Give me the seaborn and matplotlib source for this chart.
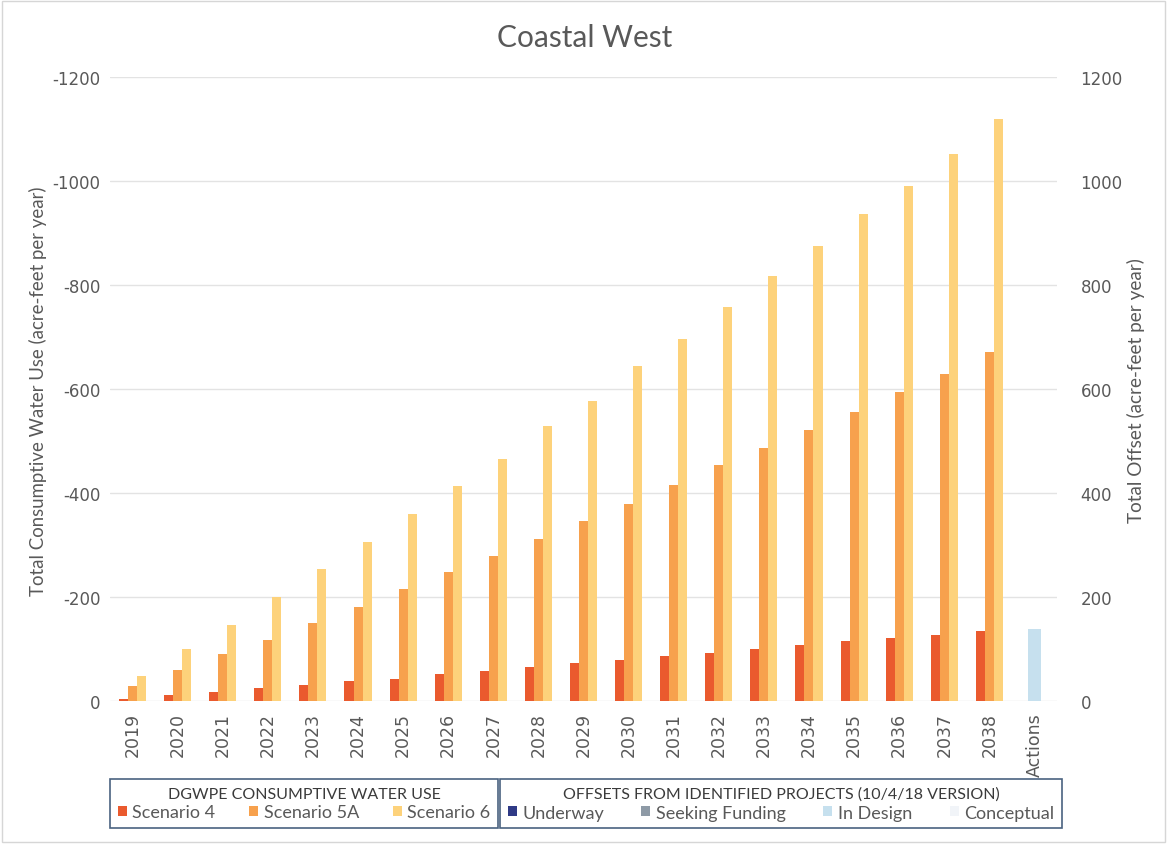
import numpy as np
import pandas as pd
import matplotlib
matplotlib.use("Agg")
import matplotlib.pyplot as plt
import seaborn as sns
from matplotlib.patches import Patch, Rectangle

# ---- data -------------------------------------------------------------
years = [str(y) for y in range(2019, 2039)]
categories = years + ["Actions"]

scenario_names = ["Scenario 4", "Scenario 5A", "Scenario 6"]
# consumptive water use (negative = use), acre-feet per year
scenario_4 = [-3, -11, -17, -25, -31, -38, -43, -52, -58, -65,
              -73, -79, -87, -92, -100, -108, -116, -121, -127, -135]
scenario_5a = [-28, -60, -90, -117, -150, -181, -215, -248, -279, -312,
               -346, -379, -415, -454, -487, -521, -556, -594, -629, -671]
scenario_6 = [-48, -100, -146, -200, -254, -306, -360, -413, -465, -529,
              -577, -644, -696, -758, -817, -875, -937, -990, -1052, -1119]

offset_names = ["Underway", "Seeking Funding", "In Design", "Conceptual"]
offset_actions = [0, 0, 138, 0]  # total offset for the "Actions" column

left_ticks = [0, -200, -400, -600, -800, -1000, -1200]
right_ticks = [0, 200, 400, 600, 800, 1000, 1200]

# ---- styling ----------------------------------------------------------
scenario_colors = ["#ea5a2e", "#f7a14d", "#fdd27b"]
offset_colors = ["#2f3a86", "#8e9aa6", "#c6e0ee", "#f1f4f8"]
text_gray = "#595959"

sns.set_theme(style="white")
plt.rcParams["font.family"] = ["Lato", "DejaVu Sans"]

W, H = 1167, 845
fig = plt.figure(figsize=(W / 100, H / 100), dpi=100)
ax = fig.add_axes([110 / W, 1 - 702 / H, 947 / W, 624 / H])

df = pd.DataFrame({
    "year": years * 3,
    "scenario": np.repeat(scenario_names, len(years)),
    "value": scenario_4 + scenario_5a + scenario_6,
})

sns.barplot(data=df, x="year", y="value", hue="scenario",
            order=categories, hue_order=scenario_names,
            palette=scenario_colors, width=0.6, saturation=1,
            linewidth=0, errorbar=None, legend=False, ax=ax)

# secondary axis: offsets from identified projects (stacked)
ax2 = ax.twinx()
cum = np.cumsum(offset_actions)
for name, color, top in reversed(list(zip(offset_names, offset_colors, cum))):
    sns.barplot(x=["Actions"], y=[top], order=categories, color=color,
                width=0.29, saturation=1, linewidth=0, errorbar=None, ax=ax2)

ax.set_xlim(-0.5, len(categories) - 0.5)
ax.set_ylim(0, -1200)
ax2.set_ylim(0, 1200)

ax.set_yticks(left_ticks)
ax.set_yticklabels([str(t) for t in left_ticks])
ax2.set_yticks(right_ticks)
ax2.set_yticklabels([str(t) for t in right_ticks])

ax.set_axisbelow(True)
ax.grid(axis="y", color="#e3e3e3", linewidth=1)
ax.grid(axis="x", visible=False)
ax2.grid(False)

for a in (ax, ax2):
    for s in a.spines.values():
        s.set_visible(False)
    a.set_xlabel("")
    a.set_ylabel("")

ax.tick_params(axis="y", length=0, pad=7, labelsize=12, labelcolor=text_gray)
ax2.tick_params(axis="y", length=0, pad=17, labelsize=12, labelcolor=text_gray)
ax.tick_params(axis="x", length=0, pad=8, labelsize=12.5, labelcolor=text_gray)
for lbl in ax.get_xticklabels():
    lbl.set_rotation(90)
    lbl.set_fontfamily("DejaVu Sans")
for lbl in ax.get_yticklabels() + ax2.get_yticklabels():
    lbl.set_fontfamily("DejaVu Sans")

# titles
fig.text(585 / W, 1 - 38 / H, "Coastal West", ha="center", va="center",
         fontsize=21.5, color=text_gray)
fig.text(38 / W, 1 - 391 / H, "Total Consumptive Water Use (acre-feet per year)",
         rotation=90, ha="center", va="center", fontsize=13.4, color=text_gray)
fig.text(1136 / W, 1 - 391 / H, "Total Offset (acre-feet per year)",
         rotation=90, ha="center", va="center", fontsize=13.6, color=text_gray)

# legends
def boxed_legend(names, colors, title, x0, x1):
    handles = [Patch(facecolor=c, edgecolor="none") for c in colors]
    leg = fig.legend(handles, names, title=title, ncol=len(names),
                     loc="upper left",
                     bbox_to_anchor=(x0 / W, 1 - 780 / H, (x1 - x0) / W, 0),
                     mode="expand", borderaxespad=0, frameon=True,
                     fancybox=False, framealpha=1, edgecolor="#4a6280",
                     fontsize=13, title_fontsize=11.5,
                     handlelength=0.5, handleheight=0.5, handletextpad=0.3,
                     columnspacing=0.6, borderpad=0.42, labelspacing=0.2,
                     labelcolor=text_gray)
    leg.get_title().set_color("#3a3a3a")
    leg.get_frame().set_linewidth(1.2)
    return leg

boxed_legend(scenario_names, scenario_colors, "DGWPE CONSUMPTIVE WATER USE", 110, 498)
boxed_legend(offset_names, offset_colors,
             "OFFSETS FROM IDENTIFIED PROJECTS (10/4/18 VERSION)", 500, 1062)

fig.patches.append(Rectangle((0.002, 0.002), 0.996, 0.996, transform=fig.transFigure,
                             fill=False, edgecolor="#d6d6d6", linewidth=1))

fig.savefig("out.png", dpi=100, facecolor="white")
